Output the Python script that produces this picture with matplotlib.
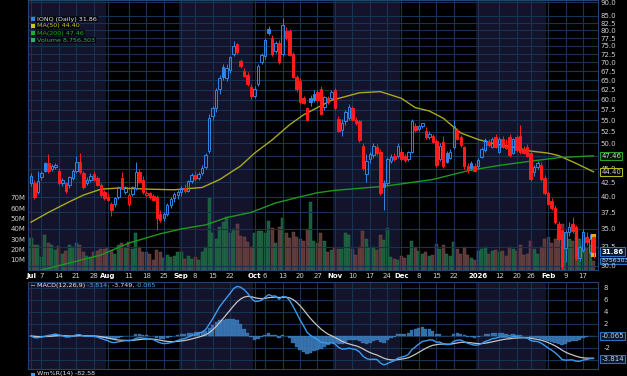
import numpy as np
import pandas as pd
import matplotlib
matplotlib.use('Agg')
import matplotlib.pyplot as plt
from matplotlib.patches import Rectangle
import matplotlib.transforms as mtransforms
from matplotlib.ticker import NullLocator

# ---------------- data ----------------
holidays = ['2025-07-04', '2025-09-01', '2025-11-27', '2025-12-25',
            '2026-01-01', '2026-01-19', '2026-02-16']

open_ = [42.3, 42.4, 40.8, 43.5, 46.0, 46.1, 45.0, 45.3, 44.6, 42.3, 42.3, 42.0, 43.3, 44.5, 46.3, 44.1, 42.3, 42.9, 44.0, 43.2, 42.0, 40.8,
         40.0, 38.9, 38.8, 40.0, 43.2, 40.8, 38.8, 40.4, 41.5, 44.3, 43.0, 40.3, 40.6, 40.2, 40.0, 37.3, 36.6, 37.2, 38.6, 39.8, 40.3,
         40.8, 41.5, 41.0, 42.7, 43.8, 43.2, 44.2, 45.3, 48.5, 56.0, 58.0, 62.8, 68.6, 65.5, 67.8, 72.5, 75.5, 70.3, 67.5, 66.5, 63.3,
         61.0, 64.0, 70.0, 71.8, 80.6, 77.6, 73.3, 76.0, 72.4, 79.9, 79.9, 72.4, 65.8, 64.8, 60.3, 57.8, 60.3, 61.5, 61.8, 62.8, 58.2, 60.5, 60.3,
         62.3, 55.3, 52.8, 54.8, 55.5, 57.8, 55.0, 54.8, 49.5, 44.0, 46.8, 47.6, 49.2, 48.2, 42.3, 42.3, 46.5, 47.5, 47.5,
         48.2, 47.4, 46.8, 48.2, 53.8, 53.0, 53.7, 52.6, 51.4, 51.6, 50.5, 46.8, 50.3, 48.0, 47.1, 49.2, 52.8, 51.3, 49.2, 45.5, 46.1, 45.5,
         45.4, 47.3, 48.6, 50.3, 49.3, 51.3, 48.3, 50.9, 49.5, 51.4, 48.1, 51.3, 51.6, 48.9, 49.3, 48.0, 44.4, 45.3, 45.7, 43.3,
         40.6, 39.4, 38.2, 35.8, 34.8, 32.3, 34.6, 35.8, 35.3, 31.0, 32.0, 33.8, 31.8, 33.8]
high = [44.2, 42.9, 44.5, 44.6, 46.3, 47.9, 45.8, 46.0, 45.2, 43.3, 42.6, 43.7, 45.0, 47.5, 48.0, 44.5, 43.5, 44.2, 44.5, 43.6, 42.3, 41.2,
        40.6, 39.2, 40.0, 41.9, 44.3, 41.9, 40.6, 41.8, 46.3, 45.0, 43.6, 41.0, 40.9, 40.5, 40.3, 37.8, 37.6, 39.0, 40.0, 40.8, 41.2,
        41.8, 42.2, 43.0, 44.2, 44.5, 44.4, 45.6, 48.0, 56.5, 58.5, 63.0, 66.5, 69.5, 69.5, 72.0, 76.5, 76.0, 71.0, 68.5, 67.2, 64.0,
        63.5, 69.5, 72.8, 77.5, 81.5, 78.5, 76.5, 77.0, 84.2, 81.0, 80.5, 73.0, 66.5, 65.5, 61.0, 58.2, 61.2, 62.5, 62.5, 63.5, 61.0, 61.0, 62.3,
        63.0, 56.0, 55.3, 57.5, 58.8, 58.3, 55.8, 55.2, 50.0, 47.8, 48.2, 50.0, 49.8, 48.8, 43.0, 47.2, 47.8, 48.0, 50.0,
        49.0, 47.8, 48.5, 55.3, 54.5, 54.0, 54.5, 53.5, 52.6, 52.0, 51.0, 50.0, 51.5, 48.5, 48.8, 55.2, 53.2, 51.8, 49.5, 46.0, 46.5, 46.0,
        47.0, 49.3, 51.2, 51.0, 51.3, 52.0, 51.3, 51.5, 50.8, 52.0, 51.2, 51.8, 54.0, 49.5, 49.8, 48.5, 45.6, 46.4, 46.2, 43.8,
        41.0, 39.8, 38.6, 36.2, 35.0, 34.8, 36.0, 36.8, 35.6, 32.8, 35.0, 34.6, 34.2, 34.0]
low = [41.8, 39.6, 40.4, 43.0, 44.4, 44.2, 44.6, 45.0, 42.0, 41.9, 40.6, 41.5, 43.0, 44.2, 44.0, 41.3, 42.0, 42.6, 42.7, 41.8, 40.0, 39.5,
       39.3, 37.0, 38.3, 39.7, 41.3, 40.5, 38.5, 40.1, 41.2, 42.3, 40.5, 40.0, 39.7, 39.3, 34.8, 36.0, 36.2, 36.9, 38.2, 39.2, 39.6,
       40.2, 40.6, 40.8, 42.4, 42.8, 42.9, 43.8, 45.0, 48.0, 55.0, 57.0, 61.5, 65.0, 64.8, 67.0, 72.0, 72.5, 68.5, 65.8, 63.5, 60.2,
       60.5, 63.5, 69.5, 71.0, 78.5, 72.0, 72.8, 69.5, 72.0, 77.0, 72.0, 65.5, 62.0, 58.8, 58.8, 54.8, 58.5, 59.5, 59.5, 56.2, 57.5, 58.8, 59.8,
       57.5, 52.3, 51.5, 54.0, 55.0, 54.8, 54.0, 50.3, 44.8, 42.5, 46.0, 47.0, 47.6, 40.3, 37.9, 42.0, 46.0, 46.4, 47.0,
       46.5, 46.2, 46.5, 48.0, 52.5, 52.6, 53.2, 51.0, 51.0, 50.0, 45.3, 46.5, 45.2, 46.0, 46.8, 48.8, 50.7, 49.3, 45.0, 44.2, 44.8, 44.3,
       45.0, 47.0, 48.3, 49.3, 49.0, 49.0, 48.0, 49.0, 48.8, 47.3, 47.8, 48.3, 47.9, 47.8, 47.2, 42.8, 43.6, 45.0, 42.8, 40.3,
       38.6, 37.8, 35.8, 33.2, 29.6, 30.5, 34.0, 34.4, 30.8, 30.6, 31.8, 32.8, 31.5, 31.0]
close = [43.6, 40.0, 42.8, 44.2, 44.6, 44.5, 45.5, 45.7, 42.3, 42.9, 41.0, 43.4, 44.6, 46.3, 44.3, 41.6, 43.0, 43.7, 43.0, 42.0, 40.3, 39.8,
         39.5, 37.9, 39.8, 41.6, 41.4, 41.6, 40.3, 41.6, 44.3, 42.6, 40.8, 40.7, 40.0, 39.5, 36.6, 36.4, 37.2, 38.6, 39.6, 40.4, 40.9,
         41.5, 41.0, 42.7, 43.8, 43.1, 44.0, 45.2, 47.6, 55.5, 58.0, 62.3, 65.7, 66.0, 68.5, 71.5, 75.0, 73.0, 68.9, 66.2, 64.0, 60.8,
         62.8, 68.9, 72.2, 77.0, 79.0, 72.4, 76.0, 70.0, 81.8, 77.6, 72.3, 65.8, 62.6, 59.4, 59.1, 55.2, 59.3, 60.0, 59.8, 56.5, 60.6, 59.3, 61.8,
         57.8, 52.7, 54.5, 57.0, 58.2, 55.2, 54.5, 50.7, 45.2, 46.5, 47.9, 49.5, 48.0, 40.6, 41.6, 46.8, 47.3, 46.8, 49.5,
         46.8, 46.6, 48.2, 54.8, 52.8, 53.7, 54.3, 51.3, 52.0, 50.3, 45.7, 49.5, 45.5, 46.2, 48.2, 53.7, 51.0, 49.7, 45.4, 45.0, 45.2, 44.6,
         46.7, 48.9, 50.7, 49.6, 50.9, 49.3, 50.9, 49.3, 49.1, 47.6, 50.8, 48.6, 48.2, 48.1, 47.5, 43.1, 45.3, 46.1, 43.1, 40.6,
         38.9, 38.2, 36.1, 33.5, 30.0, 34.5, 35.3, 34.7, 31.0, 32.5, 34.6, 33.2, 33.6, 31.86]
volume_m = [31, 24, 24, 13, 34, 26, 24, 19, 23, 16, 18, 24, 22, 26, 24, 17, 14, 13, 17, 18, 20, 20,
            22, 19, 16, 24, 26, 22, 27, 20, 36, 22, 17, 17, 16, 10, 19, 17, 12, 15, 13, 14, 17,
            17, 11, 14, 11, 13, 10, 17, 22, 70, 36, 30, 42, 47, 51, 36, 40, 45, 33, 32, 27, 22,
            36, 38, 38, 36, 48, 41, 26, 42, 50, 36, 31, 37, 32, 30, 28, 40, 66, 28, 26, 36, 28, 17, 19,
            22, 20, 20, 36, 34, 20, 15, 22, 38, 30, 21, 22, 19, 34, 29, 41, 13, 11, 10,
            14, 12, 15, 28, 22, 18, 16, 17, 14, 15, 25, 20, 24, 16, 14, 27, 20, 16, 22, 15, 12, 10,
            18, 20, 22, 16, 18, 19, 17, 18, 14, 22, 20, 18, 24, 15, 16, 28, 20, 16, 22, 30,
            32, 26, 30, 35, 45, 36, 30, 28, 38, 30, 26, 22, 24, 8.756303]

ma50_dates = ['2025-07-01', '2025-07-09', '2025-07-17', '2025-07-23', '2025-07-30', '2025-08-06', '2025-08-19',
              '2025-08-28', '2025-09-10', '2025-09-17', '2025-09-25', '2025-10-01', '2025-10-08', '2025-10-15',
              '2025-10-21', '2025-10-31', '2025-11-12', '2025-11-20', '2025-12-01', '2025-12-05', '2025-12-11',
              '2025-12-17', '2025-12-24', '2026-01-02', '2026-01-08', '2026-01-16', '2026-01-26', '2026-02-02',
              '2026-02-05', '2026-02-12', '2026-02-20']
ma50_vals = [36.0, 37.5, 39.2, 40.3, 41.3, 41.5, 41.3, 41.2, 41.6, 43.0, 45.5, 48.0, 50.7, 54.0, 56.3, 59.8,
             61.7, 62.0, 60.3, 58.0, 57.2, 55.5, 52.2, 50.8, 50.0, 49.2, 48.4, 48.0, 47.5, 46.0, 44.40]
ma200_dates = ['2025-07-01', '2025-07-07', '2025-07-30', '2025-08-11', '2025-08-22', '2025-09-02', '2025-09-11',
               '2025-09-19', '2025-09-30', '2025-10-09', '2025-10-20', '2025-10-27', '2025-11-03', '2025-11-21',
               '2025-12-12', '2025-12-29', '2026-01-12', '2026-01-27', '2026-02-05', '2026-02-20']
ma200_vals = [28.9, 29.5, 31.4, 33.0, 34.3, 35.0, 35.6, 36.7, 37.5, 39.0, 40.0, 40.7, 41.1, 41.8, 43.0,
              44.6, 45.6, 46.5, 47.1, 47.46]

tick_dates = ['2025-07-01', '2025-07-07', '2025-07-14', '2025-07-21', '2025-07-28', '2025-08-01', '2025-08-11',
              '2025-08-18', '2025-08-25', '2025-09-02', '2025-09-08', '2025-09-15', '2025-09-22', '2025-10-01',
              '2025-10-06', '2025-10-13', '2025-10-20', '2025-10-27', '2025-11-03', '2025-11-10', '2025-11-17',
              '2025-11-24', '2025-12-01', '2025-12-08', '2025-12-15', '2025-12-22', '2026-01-02', '2026-01-12',
              '2026-01-20', '2026-01-26', '2026-02-02', '2026-02-09', '2026-02-17']
tick_labels = ['Jul', '7', '14', '21', '28', 'Aug', '11', '18', '25', 'Sep', '8', '15', '22', 'Oct', '6', '13',
               '20', '27', 'Nov', '10', '17', '24', 'Dec', '8', '15', '22', '2026', '12', '20', '26', 'Feb', '9', '17']
month_labels = {'Jul', 'Aug', 'Sep', 'Oct', 'Nov', 'Dec', '2026', 'Feb'}

price_ticks = [30.0, 32.5, 35.0, 37.5, 40.0, 42.5, 45.0, 47.5, 50.0, 52.5, 55.0, 57.5, 60.0, 62.5,
               65.0, 67.5, 70.0, 72.5, 75.0, 77.5, 80.0, 82.5, 85.0, 90.0]
hidden_price_labels = [47.5]
vol_ticks_m = [10, 20, 30, 40, 50, 60, 70]

legend_main = ['IONQ (Daily) 31.86', 'MA(50) 44.40', 'MA(200) 47.46', 'Volume 8,756,303']
macd_last, signal_last, hist_last = -3.814, -3.749, -0.065

# ---------------- setup ----------------
dates = pd.bdate_range('2025-07-01', '2026-02-20')
dates = dates[~dates.isin(pd.to_datetime(holidays))]
n = len(dates)
xi = np.arange(n)
pos = {d.strftime('%Y-%m-%d'): i for i, d in enumerate(dates)}

o = np.array(open_); h = np.array(high); l = np.array(low); c = np.array(close)
vol = np.array(volume_m) * 1e6

BG = '#000000'
SHADE = '#13132b'
GRID = '#173353'
SPINE = '#23446e'
BLUE = '#2f86e6'
RED = '#ff1c1c'
TXT = '#cfcfcf'

W, H = 627, 376
fig = plt.figure(figsize=(W / 100, H / 100), dpi=100, facecolor=BG)

def rect(x0, y0, x1, y1):
    return [x0 / W, 1 - y1 / H, (x1 - x0) / W, (y1 - y0) / H]

px_per_bar = (593.5 - 31.0) / (n - 1)
xlim = (-(31.0 - 28.0) / px_per_bar, (n - 1) + (598.0 - 593.5) / px_per_bar)

main_rect = rect(28, 0, 598, 270)
macd_rect = rect(28, 282, 598, 369)

tick_pos = [pos[d] for d in tick_dates]

def shade(axis):
    months = dates.month
    for m in (7, 9, 11, 1):
        idx = np.where(months == m)[0]
        x0 = max(idx[0] - 0.5, xlim[0])
        x1 = min(idx[-1] + 0.5, xlim[1])
        axis.axvspan(x0, x1, color=SHADE, zorder=0, lw=0)

# ---- volume axis (bottom layer) ----
axv = fig.add_axes(main_rect, facecolor=BG)
shade(axv)
up = np.r_[True, c[1:] >= c[:-1]]
vcol = np.where(up, '#1b5a3b', '#5a3838')
vedge = np.where(up, '#2b7a52', '#7a4e4e')
axv.bar(xi, vol, width=0.86, color=vcol, edgecolor=vedge, linewidth=0.3, zorder=1)
axv.set_xlim(*xlim)
axv.set_ylim(0, 262e6)
axv.set_yticks([v * 1e6 for v in vol_ticks_m])
axv.set_yticklabels([f'{v}M' for v in vol_ticks_m])
axv.tick_params(axis='y', length=0, pad=2, labelsize=5, colors=TXT)
axv.set_xticks([])
for s in axv.spines.values():
    s.set_visible(False)

# ---- price axis ----
ax = fig.add_axes(main_rect, facecolor='none')
ax.set_yscale('log')
ax.set_xlim(*xlim)
ax.set_ylim(29.5, 90.8)
ax.yaxis.set_minor_locator(NullLocator())
ax.set_yticks(price_ticks)
ax.set_yticklabels(['' if t in hidden_price_labels else f'{t:.1f}' for t in price_ticks])
ax.yaxis.tick_right()
ax.tick_params(axis='y', length=0, pad=2, labelsize=5, colors=TXT)
ax.set_xticks(tick_pos)
ax.set_xticklabels(tick_labels)
ax.tick_params(axis='x', length=0, pad=2, labelsize=5, colors=TXT)
for lab in ax.get_xticklabels():
    if lab.get_text() in month_labels:
        lab.set_fontweight('bold')
        lab.set_color('#ffffff')
ax.grid(True, color=GRID, lw=0.8, zorder=0)
ax.set_axisbelow(True)
for s in ax.spines.values():
    s.set_color(SPINE)
    s.set_linewidth(0.8)

# highlight last bar
ax.add_patch(Rectangle((n - 1 - 0.75, 31.2), 1.5, 34.3 - 31.2, facecolor='#d8b420', edgecolor='none', zorder=2))

# candles
ccol = np.where(up, BLUE, RED)
bw = 0.7
for i in range(n):
    col = ccol[i]
    lo_b, hi_b = min(o[i], c[i]), max(o[i], c[i])
    ax.plot([i, i], [l[i], lo_b], color=col, lw=0.7, zorder=3, solid_capstyle='butt')
    ax.plot([i, i], [hi_b, h[i]], color=col, lw=0.7, zorder=3, solid_capstyle='butt')
    hollow = c[i] > o[i]
    ax.add_patch(Rectangle((i - bw / 2, lo_b), bw, max(hi_b - lo_b, 0.08),
                           facecolor='none' if hollow else col, edgecolor=col,
                           lw=0.7, zorder=3))

ma50_x = [pos[d] for d in ma50_dates]
ma200_x = [pos[d] for d in ma200_dates]
ax.plot(ma50_x, ma50_vals, color='#a8a81c', lw=1.0, zorder=2.5)
ax.plot(ma200_x, ma200_vals, color='#1c9a1c', lw=1.0, zorder=2.5)

# legend text
leg_cols = ['#e6e6e6', '#c8c81e', '#22b022', '#2fae6e']
icon_cols = [BLUE, '#c8c81e', '#22b022', '#2fae6e']
for k, (t, tc, ic) in enumerate(zip(legend_main, leg_cols, icon_cols)):
    yy = 1 - (19 + 7 * k) / H
    fig.text(37 / W, yy, t, color=tc, fontsize=4.6, va='center', ha='left',
             bbox=dict(boxstyle='square,pad=0.1', fc='#000000', ec='none', alpha=0.7))
    fig.patches.append(Rectangle((31 / W, yy - 2 / H), 4 / W, 4 / H, transform=fig.transFigure,
                                 facecolor=ic, edgecolor='none'))

# right side value boxes
tr = mtransforms.blended_transform_factory(ax.transAxes, ax.transData)
def vbox(axis, trans, yv, txt, ec, fc, tc, bold=False, fs=5):
    axis.text(1.006, yv, txt, transform=trans, ha='left', va='center', fontsize=fs,
              color=tc, fontweight='bold' if bold else 'normal', zorder=10, clip_on=False,
              bbox=dict(boxstyle='square,pad=0.15', fc=fc, ec=ec, lw=0.8))

vbox(ax, tr, ma200_vals[-1], f'{ma200_vals[-1]:.2f}', '#2aa02a', '#071807', TXT)
vbox(ax, tr, ma50_vals[-1], f'{ma50_vals[-1]:.2f}', '#b8b820', '#000000', TXT)
vbox(ax, tr, c[-1], f'{c[-1]:.2f}', '#2d6fc0', '#081830', '#ffffff', bold=True)
trv = mtransforms.blended_transform_factory(axv.transAxes, axv.transData)
vbox(axv, trv, vol[-1], f'{int(round(vol[-1]))}', '#2d6fc0', '#081830', TXT, fs=4.5)

# ---- MACD ----
axm = fig.add_axes(macd_rect, facecolor=BG)
shade(axm)
cs = pd.Series(c)
macd = cs.ewm(span=12, adjust=False).mean() - cs.ewm(span=26, adjust=False).mean()
signal = macd.ewm(span=9, adjust=False).mean()
hist = macd - signal
axm.bar(xi, hist, width=0.95, color='#3878b8', edgecolor='#4a8cc8', lw=0.2, zorder=2, alpha=0.9)
axm.plot(xi, signal, color='#c4c4c4', lw=0.9, zorder=3)
axm.plot(xi, macd, color='#3a9bf0', lw=1.0, zorder=4)
axm.set_xlim(*xlim)
axm.set_ylim(-5.5, 9.0)
axm.set_yticks([8, 6, 4, 2, 0, -2, -4])
axm.set_yticklabels(['8', '6', '4', '2', '', '-2', ''])
axm.yaxis.tick_right()
axm.tick_params(axis='y', length=0, pad=4, labelsize=5, colors=TXT)
axm.set_xticks(tick_pos)
axm.set_xticklabels([])
axm.tick_params(axis='x', length=0)
axm.grid(True, color=GRID, lw=0.8, zorder=0)
axm.set_axisbelow(True)
for s in axm.spines.values():
    s.set_color(SPINE)
    s.set_linewidth(0.8)
trm = mtransforms.blended_transform_factory(axm.transAxes, axm.transData)
vbox(axm, trm, hist_last, f'{hist_last:.3f}', '#2d6fc0', '#081830', TXT)
vbox(axm, trm, macd_last, f'{macd_last:.3f}', '#2d6fc0', '#081830', TXT)

# MACD legend
yy = 1 - 285.5 / H
fig.patches.append(Rectangle((31 / W, yy - 0.6 / H), 4 / W, 1.4 / H, transform=fig.transFigure,
                             facecolor='#3a9bf0', edgecolor='none'))
t1 = fig.text(37 / W, yy, 'MACD(12,26,9) ', color='#e6e6e6', fontsize=4.6, va='center', ha='left')
fig.canvas.draw()
r = fig.canvas.get_renderer()
bb = t1.get_window_extent(r)
t2 = fig.text(bb.x1 / W, yy, f'{macd_last:.3f}, ', color='#4aa8f0', fontsize=4.6, va='center', ha='left')
bb = t2.get_window_extent(r)
t3 = fig.text(bb.x1 / W, yy, f'{signal_last:.3f}, ', color='#e0e0e0', fontsize=4.6, va='center', ha='left')
bb = t3.get_window_extent(r)
fig.text(bb.x1 / W, yy, f'{hist_last:.3f}', color='#4aa8f0', fontsize=4.6, va='center', ha='left')

# Williams %R label (cut off at the bottom)
fig.patches.append(Rectangle((31 / W, 1 - 376 / H), 4 / W, 3 / H, transform=fig.transFigure,
                             facecolor='#3a9bf0', edgecolor='none'))
fig.text(37 / W, 1 - 371.5 / H, 'Wm%R(14) -82.58', color='#e6e6e6', fontsize=4.6, va='top', ha='left')

fig.savefig('out.png', dpi=100, facecolor=BG)
